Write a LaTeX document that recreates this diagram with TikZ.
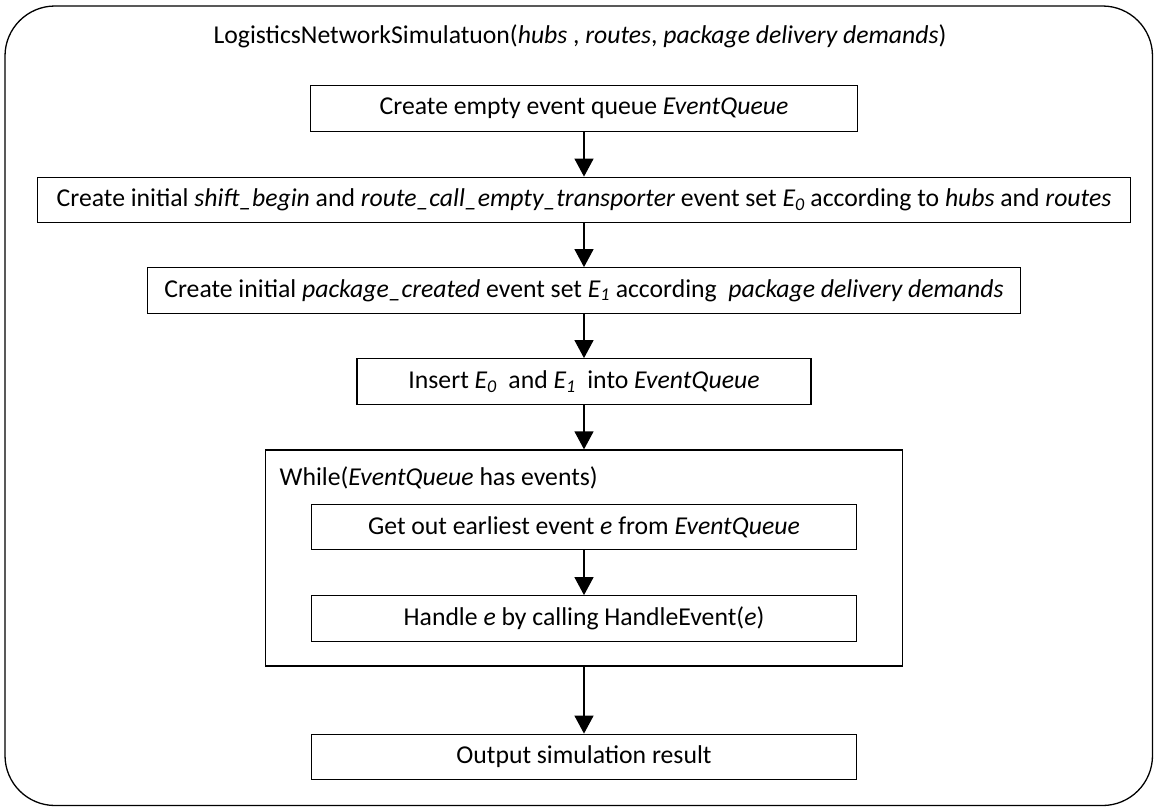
\documentclass[tikz,border=0pt]{standalone}
\usepackage{fontspec}
\setmainfont{Carlito}
\usetikzlibrary{arrows.meta}
\begin{document}
\begin{tikzpicture}[x=1pt,y=-1pt,line width=1.3pt,
  every node/.style={font=\fontsize{25.7}{30}\selectfont},
  stepbox/.style={draw,rectangle,inner sep=0pt,minimum height=45.5pt,anchor=center},
  flow/.style={-{Triangle[length=18pt,width=19pt]}}]
\fill[white] (0,0) rectangle (1154,807);
\useasboundingbox (0,0) rectangle (1154,807);
\draw[rounded corners=50pt] (5,6) rectangle (1152.5,805.5);
\node (title) at (580,36) {LogisticsNetworkSimulatuon(\textit{hubs} , \textit{routes}, \textit{package delivery demands})};
\node[stepbox,minimum width=547pt] (b1) at (584,108.5) {Create empty event queue \textit{EventQueue}};
\node[stepbox,minimum width=1093pt] (b2) at (584,200) {Create initial \textit{shift\_begin} and \textit{route\_call\_empty\_transporter} event set \textit{E\textsubscript{0}} according to \textit{hubs} and \textit{routes}};
\node[stepbox,minimum width=873pt] (b3) at (584,290.5) {Create initial \textit{package\_created} event set \textit{E\textsubscript{1}} according\ \ \textit{package delivery demands}};
\node[stepbox,minimum width=454pt] (b4) at (584,381.5) {Insert \textit{E\textsubscript{0}}\ \ and \textit{E\textsubscript{1}}\ \ into \textit{EventQueue}};
\node[stepbox,minimum width=637pt,minimum height=216pt] (wh) at (584,558) {};
\node[anchor=west,inner sep=0pt] (whl) at (279,478) {While(\textit{EventQueue} has events)};
\node[stepbox,minimum width=545pt] (in1) at (584,527) {Get out earliest event \textit{e} from \textit{EventQueue}};
\node[stepbox,minimum width=545pt] (in2) at (584,618.5) {Handle \textit{e} by calling HandleEvent(\textit{e})};
\node[stepbox,minimum width=545pt] (out) at (584,757) {Output simulation result};
\draw[flow] (b1.south) -- (b2.north);
\draw[flow] (b2.south) -- (b3.north);
\draw[flow] (b3.south) -- (b4.north);
\draw[flow] (b4.south) -- (wh.north);
\draw[flow] (in1.south) -- (in2.north);
\draw[flow] (wh.south) -- (out.north);
\end{tikzpicture}
\end{document}
